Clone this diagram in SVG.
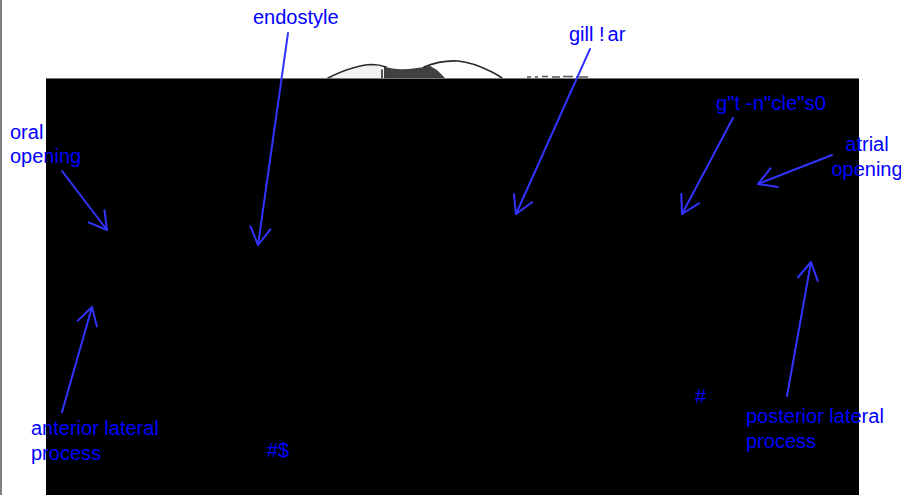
<svg xmlns="http://www.w3.org/2000/svg" width="901" height="495" viewBox="0 0 901 495">
<defs>
<style>
.lbl{font-family:"Liberation Sans",Arial,sans-serif;font-size:20px;fill:#0000ff}
.con{stroke:#3333ff;stroke-width:2;fill:none;stroke-linecap:round}
.sk{fill:none;stroke:#2a2a2a;stroke-width:1.6;stroke-linecap:round}
</style>
<marker id="vhead" markerUnits="userSpaceOnUse" viewBox="-20 -12 22 24" markerWidth="22" markerHeight="24" refX="0" refY="0" orient="auto">
<path d="M-17.3,-10 L0,0 L-17.3,10" fill="none" stroke="#3333ff" stroke-width="2" stroke-linecap="round" stroke-linejoin="round"/>
</marker>
</defs>
<rect x="0" y="0" width="901" height="495" fill="#ffffff"/>
<line x1="1" y1="0" x2="1" y2="495" stroke="#808080" stroke-width="2"/>
<g id="sketch">
<path d="M328,78 C342,71 356,65 372,64.5 C378,64.5 382,65.5 385,67 L385,78 Z" fill="#f2f2f2" stroke="none"/>
<path class="sk" d="M328,78 C342,71 356,65 372,64.5 C378,64.5 382,65.5 386,67"/>
<path d="M384,66.5 C398,71 412,69 430,66 L437,70 L445,78 L384,78 Z" fill="#1e1e1e" opacity="0.85"/>
<path class="sk" d="M424,67 C436,62 448,60.5 458,61 C470,62 482,67 492,72 C496,74 499,76 502,78"/>
<line class="sk" x1="382" y1="70" x2="382" y2="78"/>
<path d="M527,77 h4 M535,77 h3 M542,76.5 h6 M552,77 h8 M563,76.5 h10 M576,77 h12" stroke="#555" stroke-width="1.5" fill="none"/>
</g>
<rect x="46" y="78" width="813" height="417" fill="#000000"/>
<line x1="46" y1="78.5" x2="859" y2="78.5" stroke="#777" stroke-width="1"/>
<g id="connectors">
<line class="con" x1="62" y1="171" x2="107" y2="230" marker-end="url(#vhead)"/>
<line class="con" x1="288" y1="33" x2="258" y2="245" marker-end="url(#vhead)"/>
<line class="con" x1="590" y1="49" x2="516" y2="214" marker-end="url(#vhead)"/>
<line class="con" x1="733" y1="118" x2="682" y2="214" marker-end="url(#vhead)"/>
<line class="con" x1="832" y1="155" x2="758" y2="184" marker-end="url(#vhead)"/>
<line class="con" x1="62" y1="412" x2="92" y2="307" marker-end="url(#vhead)"/>
<line class="con" x1="787" y1="396" x2="811" y2="262" marker-end="url(#vhead)"/>
</g>
<g id="oral-opening"><text class="lbl" x="10" y="139">oral</text><text class="lbl" x="10" y="163">opening</text></g>
<g id="endostyle"><text class="lbl" x="253" y="24">endostyle</text></g>
<g id="gill-bar"><text class="lbl" x="569" y="41">gill !<tspan dx="3">ar</tspan></text></g>
<g id="gut-muscles"><text class="lbl" x="716" y="110" textLength="110" lengthAdjust="spacingAndGlyphs">g"t -n"cle"s0</text></g>
<g id="atrial-opening"><text class="lbl" x="867" y="151" text-anchor="middle">atrial</text><text class="lbl" x="867" y="175.5" text-anchor="middle">opening</text></g>
<g id="anterior-lateral-process"><text class="lbl" x="31" y="435">anterior lateral</text><text class="lbl" x="31" y="460">process</text></g>
<g id="label-hash-dollar"><text class="lbl" x="267" y="457">#$</text></g>
<g id="label-hash"><text class="lbl" x="695" y="403">#</text></g>
<g id="posterior-lateral-process"><text class="lbl" x="746" y="423">posterior lateral</text><text class="lbl" x="746" y="448">process</text></g>
</svg>
